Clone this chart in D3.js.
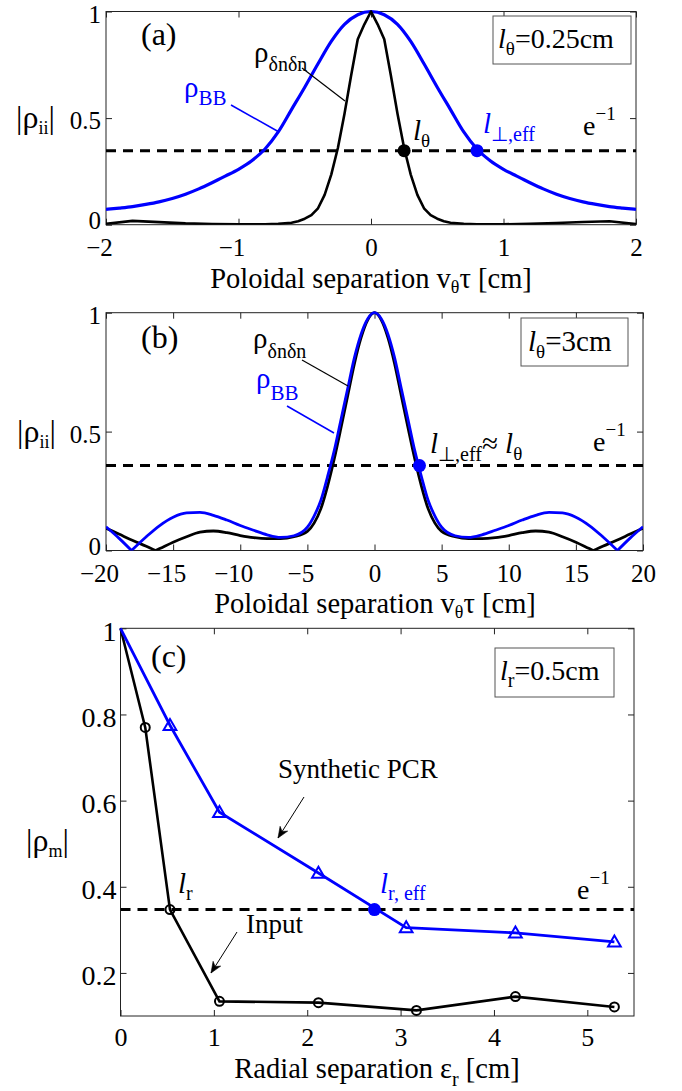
<!DOCTYPE html>
<html><head><meta charset="utf-8">
<script src="https://cdn.jsdelivr.net/npm/d3@7"></script>
<style>
html,body{margin:0;padding:0;background:#fff;}
svg{display:block;font-family:"Liberation Serif","Times New Roman",serif;}
</style></head><body>
<svg id="chart" width="682" height="1091"></svg>
<script>
// ---------- Panel (a): l_theta = 0.25 cm ----------
const aXBB = [-2.0,-1.9,-1.8,-1.7,-1.6,-1.5,-1.4,-1.3,-1.2,-1.1,-1.0,-0.9,-0.8,-0.7,-0.6,-0.5,-0.4,-0.3,-0.2,-0.1,0,
              0.1,0.2,0.3,0.4,0.5,0.6,0.7,0.8,0.9,1.0,1.1,1.2,1.3,1.4,1.5,1.6,1.7,1.8,1.9,2.0];
const aBB  = [0.072,0.078,0.085,0.095,0.107,0.123,0.143,0.168,0.197,0.228,0.26,0.30,0.355,0.435,0.54,0.645,0.755,0.86,0.94,0.985,1.0,
              0.985,0.94,0.86,0.755,0.645,0.54,0.435,0.355,0.30,0.26,0.228,0.197,0.168,0.143,0.123,0.107,0.095,0.085,0.078,0.072];
const aXNN = [-2.0,-1.8,-1.6,-1.4,-1.2,-1.0,-0.8,-0.7,-0.6,-0.55,-0.5,-0.45,-0.4,-0.35,-0.3,-0.25,-0.2,-0.15,-0.1,-0.05,0,
              0.05,0.1,0.15,0.2,0.25,0.3,0.35,0.4,0.45,0.5,0.55,0.6,0.7,0.8,1.0,1.2,1.4,1.6,1.8,2.0];
const aNN  = [0.004,0.018,0.012,0.006,0.003,0.002,0.002,0.004,0.009,0.016,0.028,0.045,0.077,0.14,0.235,0.36,0.52,0.70,0.87,0.94,1.0,
              0.94,0.87,0.70,0.52,0.36,0.235,0.14,0.077,0.045,0.028,0.016,0.009,0.004,0.002,0.002,0.004,0.008,0.013,0.016,0.003];
const aE1 = 0.347;
const aLtheta = [0.25, 0.347];
const aLeff = [0.80, 0.347];
const aXTicks = [-2,-1,0,1,2];
const abYTicks = [0,0.5,1];

// ---------- Panel (b): l_theta = 3 cm ----------
const bXBB = [-20,-19,-18.1,-17,-16,-15,-14,-13,-12,-11,-10,-9,-8,-7,-6,-5,-4.5,-4,-3.5,-3,-2.5,-2,-1.5,-1,-0.5,0,
              0.5,1,1.5,2,2.5,3,3.5,4,4.5,5,6,7,8,9,10,11,12,13,14,15,16,17,18.1,19,20];
const bBB  = [0.10,0.05,0,0.058,0.105,0.14,0.158,0.16,0.148,0.128,0.105,0.085,0.066,0.055,0.062,0.098,0.145,0.21,0.31,0.42,0.55,0.68,0.81,0.91,0.975,1.0,
              0.975,0.91,0.81,0.68,0.55,0.42,0.31,0.21,0.145,0.098,0.062,0.055,0.066,0.085,0.105,0.128,0.148,0.16,0.158,0.14,0.105,0.058,0,0.05,0.10];
const bXNN = [-20,-19,-18,-17,-16.3,-16,-15,-14,-13,-12,-11,-10,-9,-8,-7,-6,-5,-4.5,-4,-3.5,-3,-2.5,-2,-1.5,-1,-0.5,0,
              0.5,1,1.5,2,2.5,3,3.5,4,4.5,5,6,7,8,9,10,11,12,13,14,15,16,16.3,17,18,19,20];
const bNN  = [0.094,0.068,0.042,0.018,0,0.008,0.035,0.058,0.077,0.082,0.075,0.063,0.054,0.05,0.05,0.058,0.08,0.115,0.175,0.27,0.385,0.515,0.65,0.785,0.895,0.97,1.0,
              0.97,0.895,0.785,0.65,0.515,0.385,0.27,0.175,0.115,0.08,0.058,0.05,0.05,0.054,0.063,0.075,0.082,0.077,0.058,0.035,0.008,0,0.018,0.042,0.068,0.094];
const bE1 = 0.357;
const bLeff = [3.35, 0.357];
const bXTicks = [-20,-15,-10,-5,0,5,10,15,20];

// ---------- Panel (c): l_r = 0.5 cm ----------
const cXIn  = [0, 0.265, 0.53, 1.06, 2.12, 3.17, 4.23, 5.29];
const cIn   = [1.0, 0.77, 0.347, 0.134, 0.131, 0.113, 0.145, 0.121];
const cXSyn = [0, 0.53, 1.06, 2.12, 3.06, 4.23, 5.29];
const cSyn  = [1.0, 0.775, 0.573, 0.432, 0.305, 0.293, 0.272];
const cE1 = 0.347;
const cLeff = [2.72, 0.347];
const cXTicks = [0,1,2,3,4,5];
const cYTicks = [0.2,0.4,0.6,0.8,1];

const BLUE = "#0000ff";
const FONT = '"Liberation Serif","Times New Roman",serif';
const svg = d3.select("#chart");
svg.append("rect").attr("width",682).attr("height",1091).attr("fill","#fff");
const fmt = d3.format("");

function panel(cfg){
  const x = d3.scaleLinear().domain(cfg.xDom).range([cfg.left, cfg.right]);
  const y = d3.scaleLinear().domain(cfg.yDom).range([cfg.bottom, cfg.top]);
  const g = svg.append("g");
  const ax = (axis, tr, fs) => {
    const a = g.append("g").attr("transform", tr).call(axis);
    a.attr("font-family", FONT);
    a.select(".domain").remove();
    a.selectAll("line").attr("stroke","#222");
    a.selectAll("text").attr("font-size",fs).attr("fill","#000");
    return a;
  };
  const bx = ax(d3.axisBottom(x).tickValues(cfg.xTicks).tickSizeInner(-6).tickSizeOuter(0).tickPadding(cfg.xPad).tickFormat(fmt), `translate(0,${cfg.bottom})`, cfg.xFont);
  bx.selectAll(".tick text").attr("dx", d => d < 0 ? "-0.28em" : null);
  ax(d3.axisTop(x).tickValues(cfg.xTicks).tickSizeInner(-6).tickSizeOuter(0).tickFormat(""), `translate(0,${cfg.top})`, cfg.xFont);
  const ly = ax(d3.axisLeft(y).tickValues(cfg.yTicks).tickSizeInner(-6).tickSizeOuter(0).tickPadding(cfg.yPad).tickFormat(fmt), `translate(${cfg.left},0)`, cfg.yFont);
  ly.selectAll(".tick text").attr("dy", d => (d === 0 ? "0.16em" : "0.42em"));
  ax(d3.axisRight(y).tickValues(cfg.yTicks).tickSizeInner(-6).tickSizeOuter(0).tickFormat(""), `translate(${cfg.right},0)`, cfg.yFont);
  g.append("rect").attr("x",cfg.left).attr("y",cfg.top).attr("width",cfg.right-cfg.left).attr("height",cfg.bottom-cfg.top)
    .attr("fill","none").attr("stroke","#222").attr("stroke-width",1);
  const id = "clip"+Math.round(cfg.top);
  svg.append("clipPath").attr("id",id).append("rect").attr("x",cfg.left).attr("y",cfg.top-4).attr("width",cfg.right-cfg.left).attr("height",cfg.bottom-cfg.top+4);
  const pg = g.append("g").attr("clip-path",`url(#${id})`);
  return {x,y,g,pg};
}

function rich(g, x, y, size, parts, color, anchor){
  const t = g.append("text").attr("x",x).attr("y",y).attr("font-size",size).attr("font-family",FONT)
    .attr("fill",color||"#000").attr("text-anchor",anchor||"start");
  let cur = 0;
  parts.forEach(p=>{
    const off = p.sub ? (p.off!==undefined?p.off:size*0.3) : p.sup ? -size*0.55 : 0;
    const ts = t.append("tspan").text(p.t).attr("dy", off-cur);
    if(p.sub||p.sup) ts.attr("font-size", p.size||Math.round(size*0.68));
    if(p.it) ts.attr("font-style","italic");
    cur = off;
  });
  return t;
}

function zip(xs, ys){ return xs.map((v,i)=>[v, ys[i]]); }
function splitZeros(pts){
  const segs=[]; let cur=[];
  pts.forEach(p=>{ cur.push(p); if(p[1]===0 && cur.length>1){ segs.push(cur); cur=[p]; } });
  if(cur.length>1) segs.push(cur);
  return segs;
}
function dashed(P, v){
  P.pg.append("line").attr("x1",P.x.range()[0]).attr("x2",P.x.range()[1]).attr("y1",P.y(v)).attr("y2",P.y(v))
    .attr("stroke","#000").attr("stroke-width",3).attr("stroke-dasharray","10,7");
}
function e1(g, x, y){
  rich(g, x, y, 28, [{t:"e"},{t:"−1",sup:true,size:19}]);
}

// ===== Panel (a) =====
const A = panel({left:106,right:636,top:11.5,bottom:224.7,xDom:[-2,2],yDom:[0,1],xTicks:aXTicks,yTicks:abYTicks,xFont:25,yFont:25,xPad:13.8,yPad:5});
dashed(A, aE1);
A.pg.append("path").datum(zip(aXBB,aBB)).attr("fill","none").attr("stroke",BLUE).attr("stroke-width",3.2)
  .attr("d", d3.line().x(d=>A.x(d[0])).y(d=>A.y(d[1])).curve(d3.curveMonotoneX));
A.pg.append("path").datum(zip(aXNN,aNN)).attr("fill","none").attr("stroke","#000").attr("stroke-width",2.6)
  .attr("stroke-linejoin","round").attr("d", d3.line().x(d=>A.x(d[0])).y(d=>A.y(d[1])));
A.g.append("circle").attr("cx",A.x(aLtheta[0])).attr("cy",A.y(aLtheta[1])).attr("r",6.5).attr("fill","#000");
A.g.append("circle").attr("cx",A.x(aLeff[0])).attr("cy",A.y(aLeff[1])).attr("r",6.5).attr("fill",BLUE);
rich(A.g, 141, 45, 32, [{t:"(a)"}]);
rich(A.g, 254, 62, 29, [{t:"ρ"},{t:"δnδn",sub:true,size:20,off:9}]);
A.g.append("line").attr("x1",302).attr("y1",68).attr("x2",345).attr("y2",101).attr("stroke","#000").attr("stroke-width",1.2);
rich(A.g, 184, 97, 29, [{t:"ρ"},{t:"BB",sub:true,size:21,off:8}], BLUE);
A.g.append("line").attr("x1",231).attr("y1",105).attr("x2",279).attr("y2",132).attr("stroke",BLUE).attr("stroke-width",1.5);
rich(A.g, 413, 140, 29, [{t:"l",it:true},{t:"θ",sub:true,size:19,off:7}]);
rich(A.g, 483, 133, 29, [{t:"l",it:true},{t:"⊥,eff",sub:true,size:20,off:8}], BLUE);
e1(A.g, 583, 135);
A.g.append("rect").attr("x",493).attr("y",16).attr("width",138).attr("height",48).attr("fill","#fff").attr("stroke","#555");
rich(A.g, 498, 48, 28, [{t:"l",it:true},{t:"θ",sub:true,size:19,off:7},{t:"=0.25cm"}]);
rich(svg, 16, 128, 32, [{t:"|ρ"},{t:"ii",sub:true,size:18,off:6},{t:"|"}]);
rich(svg, 371, 287.5, 28.5, [{t:"Poloidal separation v"},{t:"θ",sub:true,size:18,off:5},{t:"τ [cm]"}], "#000", "middle");

// ===== Panel (b) =====
const B = panel({left:106,right:643,top:312.7,bottom:550.5,xDom:[-20,20],yDom:[0,1],xTicks:bXTicks,yTicks:abYTicks,xFont:25,yFont:25,xPad:13.8,yPad:5});
dashed(B, bE1);
const lineB = d3.line().x(d=>B.x(d[0])).y(d=>B.y(d[1])).curve(d3.curveMonotoneX);
splitZeros(zip(bXNN,bNN)).forEach(s=>{
  B.pg.append("path").datum(s).attr("fill","none").attr("stroke","#000").attr("stroke-width",2.8).attr("d",lineB);
});
splitZeros(zip(bXBB,bBB)).forEach(s=>{
  B.pg.append("path").datum(s).attr("fill","none").attr("stroke",BLUE).attr("stroke-width",2.8).attr("d",lineB);
});
B.g.append("circle").attr("cx",B.x(bLeff[0])).attr("cy",B.y(bLeff[1])).attr("r",6.5).attr("fill",BLUE);
rich(B.g, 141, 348, 32, [{t:"(b)"}]);
rich(B.g, 253, 348, 29, [{t:"ρ"},{t:"δnδn",sub:true,size:20,off:10}]);
B.g.append("line").attr("x1",302).attr("y1",360).attr("x2",348).attr("y2",386).attr("stroke","#000").attr("stroke-width",1.2);
rich(B.g, 256, 388, 29, [{t:"ρ"},{t:"BB",sub:true,size:21,off:12}], BLUE);
B.g.append("line").attr("x1",287).attr("y1",406).attr("x2",334).attr("y2",433).attr("stroke",BLUE).attr("stroke-width",1.5);
rich(B.g, 430, 453, 29, [{t:"l",it:true},{t:"⊥,eff",sub:true,size:20,off:8},{t:"≈ "},{t:"l",it:true},{t:"θ",sub:true,size:19,off:7}]);
e1(B.g, 593, 451);
B.g.append("rect").attr("x",521).attr("y",318).attr("width",107).attr("height",48).attr("fill","#fff").attr("stroke","#555");
rich(B.g, 528, 351, 29, [{t:"l",it:true},{t:"θ",sub:true,size:19,off:7},{t:"=3cm"}]);
rich(svg, 17, 442, 32, [{t:"|ρ"},{t:"ii",sub:true,size:18,off:6},{t:"|"}]);
rich(svg, 375, 613, 28.5, [{t:"Poloidal separation v"},{t:"θ",sub:true,size:18,off:5},{t:"τ [cm]"}], "#000", "middle");

// ===== Panel (c) =====
const C = panel({left:120.5,right:634,top:628.3,bottom:1016,xDom:[0,5.5],yDom:[0.1,1],xTicks:cXTicks,yTicks:cYTicks,xFont:26,yFont:28,xPad:11.5,yPad:4});
dashed(C, cE1);
const lineC = d3.line().x(d=>C.x(d[0])).y(d=>C.y(d[1]));
C.g.append("path").datum(zip(cXIn,cIn)).attr("fill","none").attr("stroke","#000").attr("stroke-width",2.6).attr("d",lineC);
C.g.append("path").datum(zip(cXSyn,cSyn)).attr("fill","none").attr("stroke",BLUE).attr("stroke-width",2.8).attr("d",lineC);
C.g.selectAll(".mc").data(zip(cXIn,cIn).slice(1)).enter().append("circle")
  .attr("cx",d=>C.x(d[0])).attr("cy",d=>C.y(d[1])).attr("r",4.5).attr("fill","none").attr("stroke","#000").attr("stroke-width",2);
C.g.selectAll(".mt").data(zip(cXSyn,cSyn).slice(1)).enter().append("path")
  .attr("transform",d=>`translate(${C.x(d[0])},${C.y(d[1])+1})`)
  .attr("d", d3.symbol(d3.symbolTriangle, 70)).attr("fill","none").attr("stroke",BLUE).attr("stroke-width",2);
C.g.append("circle").attr("cx",C.x(cLeff[0])).attr("cy",C.y(cLeff[1])).attr("r",6.5).attr("fill",BLUE);
rich(C.g, 151, 667, 32, [{t:"(c)"}]);
C.g.append("rect").attr("x",495).attr("y",648).attr("width",119).attr("height",49).attr("fill","#fff").attr("stroke","#555");
rich(C.g, 500, 680, 28, [{t:"l",it:true},{t:"r",sub:true,size:20,off:7},{t:"=0.5cm"}]);
rich(C.g, 278, 778, 27, [{t:"Synthetic PCR"}]);
rich(C.g, 246, 933, 27, [{t:"Input"}]);
function arrow(g,x1,y1,x2,y2){
  g.append("line").attr("x1",x1).attr("y1",y1).attr("x2",x2).attr("y2",y2).attr("stroke","#000").attr("stroke-width",1);
  const a = Math.atan2(y2-y1,x2-x1), L=11, W=4.5;
  const bx = x2-L*Math.cos(a), by = y2-L*Math.sin(a);
  const nx = -Math.sin(a), ny = Math.cos(a);
  const mx = x2-L*0.7*Math.cos(a), my = y2-L*0.7*Math.sin(a);
  g.append("path").attr("d",`M${x2},${y2}L${bx+nx*W},${by+ny*W}L${mx},${my}L${bx-nx*W},${by-ny*W}Z`)
    .attr("fill","#000").attr("stroke","#000").attr("stroke-width",0.6);
}
arrow(C.g, 304, 797, 278, 838);
arrow(C.g, 237, 932, 211, 973);
rich(C.g, 178, 893, 29, [{t:"l",it:true},{t:"r",sub:true,size:20,off:7}]);
rich(C.g, 380, 893, 29, [{t:"l",it:true},{t:"r, eff",sub:true,size:20,off:7}], BLUE);
e1(C.g, 577, 899);
rich(svg, 26, 851, 32, [{t:"|ρ"},{t:"m",sub:true,size:18,off:6},{t:"|"}]);
rich(svg, 377, 1077.5, 28.5, [{t:"Radial separation ε"},{t:"r",sub:true,size:20,off:8},{t:" [cm]"}], "#000", "middle");
</script></body></html>
